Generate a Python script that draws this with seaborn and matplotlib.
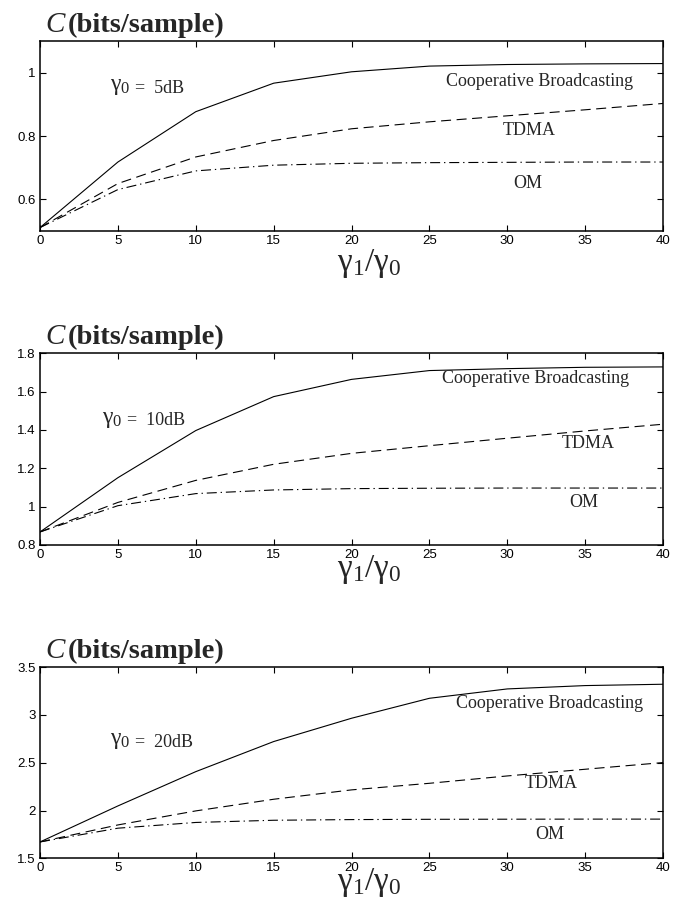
import matplotlib
matplotlib.use("Agg")
import matplotlib.pyplot as plt
import seaborn as sns
import pandas as pd
import numpy as np

# ratio gamma1/gamma0
ratio = [0, 5, 10, 15, 20, 25, 30, 35, 40]

# gamma0 = 5dB
coop_5 = [0.511, 0.718, 0.877, 0.967, 1.003, 1.021, 1.026, 1.028, 1.029]
tdma_5 = [0.511, 0.650, 0.734, 0.786, 0.823, 0.845, 0.864, 0.883, 0.903]
om_5 = [0.511, 0.631, 0.690, 0.708, 0.714, 0.716, 0.717, 0.718, 0.718]

# gamma0 = 10dB
coop_10 = [0.868, 1.151, 1.397, 1.574, 1.664, 1.710, 1.720, 1.727, 1.729]
tdma_10 = [0.868, 1.022, 1.137, 1.221, 1.278, 1.318, 1.357, 1.395, 1.430]
om_10 = [0.868, 1.005, 1.068, 1.087, 1.094, 1.096, 1.097, 1.097, 1.097]

# gamma0 = 20dB
coop_20 = [1.671, 2.048, 2.407, 2.722, 2.966, 3.175, 3.273, 3.308, 3.322]
tdma_20 = [1.671, 1.849, 1.996, 2.118, 2.216, 2.285, 2.362, 2.432, 2.502]
om_20 = [1.671, 1.815, 1.875, 1.898, 1.905, 1.908, 1.909, 1.910, 1.910]

schemes = ["Cooperative Broadcasting", "TDMA", "OM"]
panel_labels = ["5dB", "10dB", "20dB"]
panel_data = [(coop_5, tdma_5, om_5), (coop_10, tdma_10, om_10), (coop_20, tdma_20, om_20)]
ylims = [(0.5, 1.1), (0.8, 1.8), (1.5, 3.5)]
yticks = [[0.6, 0.8, 1.0], [0.8, 1.0, 1.2, 1.4, 1.6, 1.8], [1.5, 2, 2.5, 3, 3.5]]
xticks = [0, 5, 10, 15, 20, 25, 30, 35, 40]

# label positions (data coords): gamma label baseline, coop, tdma, om
label_pos = [
    [(4.5, 0.936), (32.1, 0.971), (31.4, 0.817), (31.3, 0.650)],
    [(3.96, 1.424), (31.8, 1.670), (35.2, 1.330), (34.9, 1.021)],
    [(4.5, 2.666), (32.7, 3.123), (32.8, 2.278), (32.7, 1.744)],
]

sns.set_theme(style="ticks")
plt.rcParams["font.family"] = ["Liberation Sans", "DejaVu Sans"]
plt.rcParams["mathtext.fontset"] = "custom"
plt.rcParams["mathtext.rm"] = "Liberation Serif"
plt.rcParams["mathtext.it"] = "Liberation Serif:italic"
plt.rcParams["mathtext.bf"] = "Liberation Serif:bold"
plt.rcParams["xtick.direction"] = "in"
plt.rcParams["ytick.direction"] = "in"

fig = plt.figure(figsize=(6.9, 8.99), dpi=100)
# axes rectangles [left, bottom, width, height]
rects = [[0.058, 0.743, 0.903, 0.2113],
         [0.058, 0.3938, 0.903, 0.2132],
         [0.058, 0.0453, 0.903, 0.2125]]
xlabel_y = [-0.17, -0.13, -0.125]
serif = "Liberation Serif"

for i in range(3):
    ax = fig.add_axes(rects[i])
    coop, tdma, om = panel_data[i]
    df = pd.DataFrame({
        "ratio": ratio * 3,
        "C": coop + tdma + om,
        "scheme": [schemes[0]] * len(ratio) + [schemes[1]] * len(ratio) + [schemes[2]] * len(ratio),
    })
    sns.lineplot(data=df, x="ratio", y="C", style="scheme", hue="scheme",
                 palette={s: "black" for s in schemes},
                 dashes={schemes[0]: "", schemes[1]: (9, 5), schemes[2]: (9, 3.5, 1.2, 3.5)},
                 linewidth=0.8, legend=False, ax=ax)
    ax.set_xlim(0, 40)
    ax.set_ylim(*ylims[i])
    ax.set_xticks(xticks)
    ax.set_yticks(yticks[i])
    ax.set_yticklabels([f"{v:g}" for v in yticks[i]])
    ax.tick_params(axis="both", which="both", direction="in", length=4, width=0.8,
                   labelsize=9.5, top=True, right=True, colors="black", pad=3)
    for sp in ax.spines.values():
        sp.set_visible(True)
        sp.set_linewidth(1.1)
        sp.set_color("black")
    ax.set_ylabel("")
    ax.set_xlabel(r"$\mathrm{\gamma}_1/\mathrm{\gamma}_0$", fontsize=24)
    ax.xaxis.set_label_coords(0.528, xlabel_y[i])
    ax.xaxis.label.set_va("center")

    # title
    ax.text(0.008, 1.05, r"$C$", transform=ax.transAxes, fontsize=21,
            family=serif, ha="left", va="baseline")
    ax.text(0.045, 1.05, "(bits/sample)", transform=ax.transAxes, fontsize=20.5,
            family=serif, fontweight="bold", ha="left", va="baseline")

    gpos, cpos, tpos, opos = label_pos[i]
    # gamma_0 drawn larger, "= xdB" placed right after it
    ax.annotate(r"$\mathrm{\gamma}_0$", xy=gpos, xytext=(0, 2), textcoords="offset points",
                family=serif, fontsize=17, ha="left", va="baseline")
    ax.annotate("=  " + panel_labels[i], xy=gpos, xytext=(18, 0), textcoords="offset points",
                family=serif, fontsize=13, ha="left", va="baseline")
    ax.text(cpos[0], cpos[1], schemes[0], family=serif, fontsize=13,
            ha="center", va="center")
    ax.text(tpos[0], tpos[1], schemes[1], family=serif, fontsize=13,
            ha="center", va="center")
    ax.text(opos[0], opos[1], schemes[2], family=serif, fontsize=13,
            ha="center", va="center")

fig.savefig("out.png", dpi=100)
